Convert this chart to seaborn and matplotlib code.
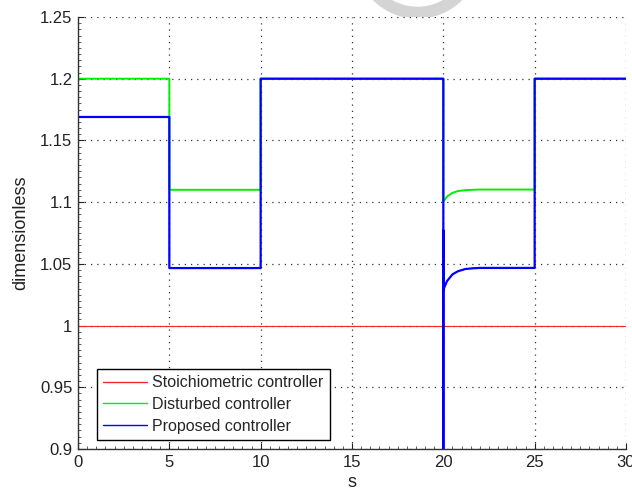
import numpy as np
import pandas as pd
import matplotlib
matplotlib.use("Agg")
import matplotlib.pyplot as plt
from matplotlib.patches import Wedge
from matplotlib.ticker import MultipleLocator
import seaborn as sns

# ---- data ----
series_names = ["Stoichiometric controller", "Disturbed controller", "Proposed controller"]

t_stoich = [0, 30]
v_stoich = [1.0, 1.0]

t_dist = [0, 5, 5, 10, 10, 20, 20, 20.2, 20.5, 20.8, 21.2, 21.6, 22.0, 25, 25, 30]
v_dist = [1.2, 1.2, 1.11, 1.11, 1.2, 1.2, 1.1003, 1.1045, 1.1075, 1.109, 1.1097, 1.11, 1.1102, 1.1102, 1.2, 1.2]

t_prop = [0, 5, 5, 10, 10, 20, 20, 20, 20, 20.2, 20.5, 20.8, 21.2, 21.6, 22.0, 25, 25, 30]
v_prop = [1.169, 1.169, 1.0466, 1.0466, 1.2, 1.2, 0.85, 1.077, 1.029, 1.036, 1.0415, 1.044, 1.0458, 1.0464, 1.0467, 1.0467, 1.2, 1.2]

x_ticks = [0, 5, 10, 15, 20, 25, 30]
y_ticks = [0.9, 0.95, 1.0, 1.05, 1.1, 1.15, 1.2, 1.25]
y_tick_labels = ["0.9", "0.95", "1", "1.05", "1.1", "1.15", "1.2", "1.25"]

colors = {"Stoichiometric controller": "#f22a2a",
          "Disturbed controller": "#00ee00",
          "Proposed controller": "#0000ff"}
widths = {"Stoichiometric controller": 0.8,
          "Disturbed controller": 1.4,
          "Proposed controller": 1.6}

frames = []
for name, t, v in zip(series_names, [t_stoich, t_dist, t_prop], [v_stoich, v_dist, v_prop]):
    frames.append(pd.DataFrame({"t": t, "v": v, "series": name, "order": np.arange(len(t))}))
df = pd.concat(frames, ignore_index=True)

sns.set_theme(style="white")
plt.rcParams["font.family"] = ["Liberation Sans", "DejaVu Sans"]

fig = plt.figure(figsize=(6.32, 4.94), dpi=100)
ax = fig.add_axes([78 / 632, 1 - 449 / 494, 548 / 632, 432 / 494])

for name in series_names:
    sub = df[df["series"] == name]
    sns.lineplot(data=sub, x="t", y="v", sort=False, estimator=None, ax=ax,
                 color=colors[name], linewidth=widths[name], label=name)

ax.set_xlim(0, 30)
ax.set_ylim(0.9, 1.25)
ax.set_xticks(x_ticks)
ax.set_xticklabels([str(x) for x in x_ticks])
ax.set_yticks(y_ticks)
ax.set_yticklabels(y_tick_labels)
ax.xaxis.set_minor_locator(MultipleLocator(0.5))
ax.yaxis.set_minor_locator(MultipleLocator(0.005))
ax.tick_params(axis="both", which="major", direction="in", length=4, width=0.8,
               labelsize=12, colors="#222222", pad=4, top=False, right=False,
               bottom=True, left=True)
ax.tick_params(axis="both", which="minor", direction="in", length=2, width=0.6,
               colors="#444444", top=False, right=False, bottom=True, left=True)
for lab in ax.get_xticklabels() + ax.get_yticklabels():
    lab.set_color("#222222")

ax.grid(True, which="major", linestyle=(0, (1, 4)), color="#333333", linewidth=0.9)
ax.set_axisbelow(True)
for s in ["top", "right"]:
    ax.spines[s].set_visible(False)
for s in ["left", "bottom"]:
    ax.spines[s].set_color("#333333")
    ax.spines[s].set_linewidth(1.0)

ax.set_xlabel("s", fontsize=13, color="#222222", labelpad=3)
ax.set_ylabel("dimensionless", fontsize=13, color="#222222", labelpad=8)

leg = ax.legend(loc="lower left", bbox_to_anchor=(19 / 548, 9 / 432), borderaxespad=0,
                fontsize=11.5, frameon=True, fancybox=False, framealpha=1,
                handlelength=2.7, handletextpad=0.35, labelspacing=0.42,
                borderpad=0.4)
leg.get_frame().set_edgecolor("black")
leg.get_frame().set_linewidth(1.0)
for line in leg.get_lines():
    line.set_linewidth(1.0)

# grey watermark fragment above the axes
w = Wedge((417.5, 494 + 44.3), 63, 180, 360, width=12, facecolor="#d4d4d4",
          edgecolor="none", transform=None, zorder=-1)
fig.patches.append(w)

fig.savefig("out.png", dpi=100)
